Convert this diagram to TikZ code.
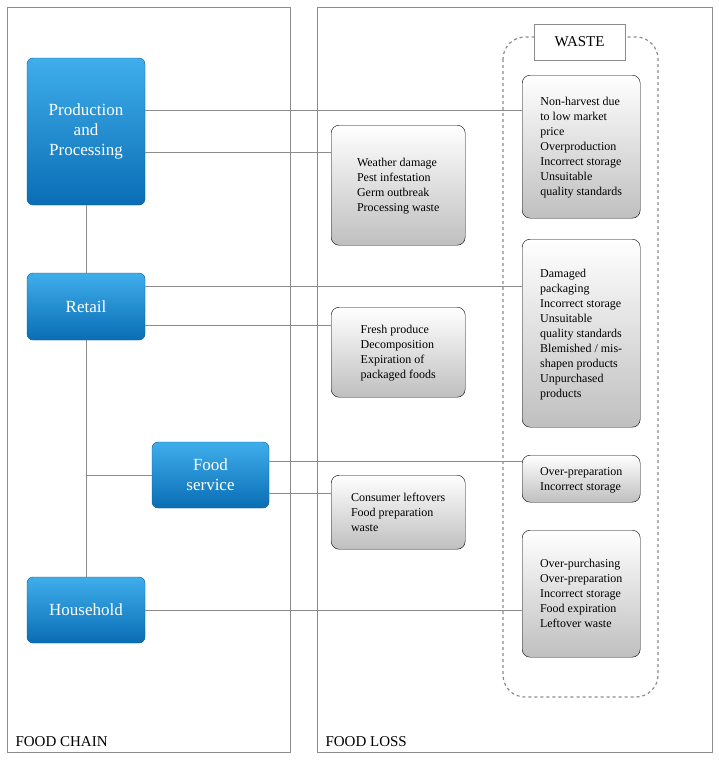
\documentclass[tikz,border=0pt]{standalone}
\usepackage{fontspec}
\setmainfont{Liberation Serif}
\usetikzlibrary{positioning,calc}
\definecolor{bluetop}{HTML}{3FAEEB}
\definecolor{bluebot}{HTML}{0A6DB5}
\definecolor{framegray}{HTML}{8C8C8C}
\begin{document}
\begin{tikzpicture}[x=1pt,y=-1pt,
    stage/.style={rectangle, rounded corners=6pt, draw=bluebot!80!black, top color=bluetop, bottom color=bluebot, text=white, font=\fontsize{17}{20}\selectfont, align=center, inner sep=2pt},
    cause/.style={rectangle, rounded corners=8pt, draw=black, top color=white, bottom color=black!25, font=\fontsize{12}{15}\selectfont, align=left, anchor=north west, inner sep=4pt, text depth=0pt},
    panel/.style={draw=framegray, line width=0.6pt},
    link/.style={draw=framegray, line width=0.6pt}
]
\useasboundingbox (0,0) rectangle (719,763);

% Panels
\draw[panel] (7,7) rectangle (290,752);
\draw[panel] (317,7) rectangle (712,752);
\node[anchor=south west, font=\fontsize{15}{18}\selectfont] (chain) at (12,750) {FOOD CHAIN};
\node[anchor=south west, font=\fontsize{15}{18}\selectfont] (loss) at (322,750) {FOOD LOSS};

% Waste area
\draw[dashed, draw=framegray, line width=1.2pt, rounded corners=22pt] (503,37) rectangle (658,697);
\node[draw=framegray, fill=white, minimum width=91pt, minimum height=36pt, font=\fontsize{15}{18}\selectfont] (waste) at (579.5,42) {WASTE};

% Food chain stages
\node[stage, minimum width=118pt, minimum height=147pt] (prod) at (86,131.5) {Production\\and\\Processing};
\node[stage, minimum width=118pt, minimum height=67pt] (retail) at (86,306.5) {Retail};
\node[stage, minimum width=117pt, minimum height=66pt] (service) at (210.5,475) {Food\\service};
\node[stage, minimum width=118pt, minimum height=66pt] (house) at (86,610) {Household};

% Loss causes
\node[cause, minimum width=134pt, minimum height=120pt] (lossA) at (331,125) {Weather damage\\Pest infestation\\Germ outbreak\\Processing waste};
\node[cause, minimum width=134pt, minimum height=90pt] (lossB) at (331,307) {Fresh produce\\Decomposition\\Expiration of\\packaged  foods};
\node[cause, minimum width=134pt, minimum height=74pt] (lossC) at (331,475) {Consumer leftovers\\Food preparation\\waste};

% Waste causes
\node[cause, minimum width=118pt, minimum height=143pt] (wasteA) at (522,75) {Non-harvest due\\to low market\\price\\Overproduction\\Incorrect storage\\Unsuitable\\quality standards};
\node[cause, minimum width=118pt, minimum height=188pt] (wasteB) at (522,239) {Damaged\\packaging\\Incorrect storage\\Unsuitable\\quality standards\\Blemished / mis-\\shapen products\\Unpurchased\\products};
\node[cause, minimum width=118pt, minimum height=47pt] (wasteC) at (522,455) {Over-preparation\\Incorrect storage};
\node[cause, minimum width=118pt, minimum height=127pt] (wasteD) at (522,530) {Over-purchasing\\Over-preparation\\Incorrect storage\\Food expiration\\Leftover waste};

% Chain links
\coordinate (fork) at (86,475);
\draw[link] (prod) -- (retail);
\draw[link] (retail) -- (house);
\draw[link] (fork) -- (service);

% Loss and waste links
\draw[link] (prod.east |- 0,110) -- (wasteA.west |- 0,110);
\draw[link] (prod.east |- 0,152) -- (lossA.west |- 0,152);
\draw[link] (retail.east |- 0,286) -- (wasteB.west |- 0,286);
\draw[link] (retail.east |- 0,325) -- (lossB.west |- 0,325);
\draw[link] (service.east |- 0,461) -- (wasteC.west |- 0,461);
\draw[link] (service.east |- 0,493) -- (lossC.west |- 0,493);
\draw[link] (house.east) -- (wasteD.west |- house.east);
\end{tikzpicture}
\end{document}
